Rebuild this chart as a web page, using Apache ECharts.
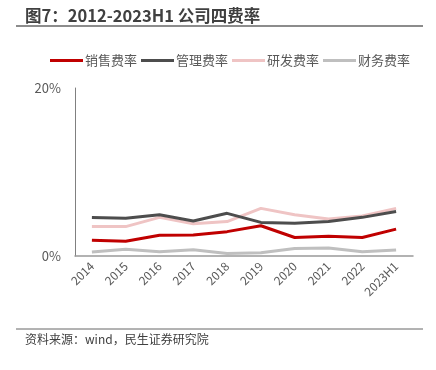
<!DOCTYPE html>
<html><head><meta charset="utf-8">
<script src="https://cdn.jsdelivr.net/npm/echarts@6/dist/echarts.min.js"></script>
<style>html,body{margin:0;padding:0;background:#fff}#c{width:436px;height:370px}</style>
</head><body><div id="c"></div>
<script>
const categories = ['2014','2015','2016','2017','2018','2019','2020','2021','2022','2023H1'];
const salesRate = [1.87, 1.75, 2.46, 2.5, 2.9, 3.6, 2.2, 2.35, 2.2, 3.2];
const mgmtRate = [4.57, 4.5, 4.9, 4.17, 5.08, 4.0, 3.9, 4.1, 4.6, 5.3];
const rdRate = [3.5, 3.5, 4.6, 3.85, 4.1, 5.67, 4.9, 4.4, 4.76, 5.67];
const finRate = [0.48, 0.8, 0.5, 0.75, 0.3, 0.4, 0.9, 0.95, 0.5, 0.7];
const seriesNames = ['销售费率','管理费率','研发费率','财务费率'];
const yTicks = [0, 20];

const colors = ['#C00000','#4D4D4D','#EFC4C4','#BFBFBF'];
const font = '"Noto Sans CJK SC", "Noto Sans", sans-serif';
const chart = echarts.init(document.getElementById('c'));
const dataSets = [salesRate, mgmtRate, rdRate, finRate];
chart.setOption({
  animation: false,
  title: {
    text: '图7：2012-2023H1 公司四费率',
    left: 20, top: 2,
    textStyle: {fontFamily: font, fontSize: 16.5, fontWeight: 'bold', color: '#404040'}
  },
  graphic: [
    {type: 'line', shape: {x1: 16, y1: 26, x2: 423, y2: 26}, style: {stroke: '#666', lineWidth: 1.5}},
    {type: 'line', shape: {x1: 16, y1: 329, x2: 423, y2: 329}, style: {stroke: '#666', lineWidth: 1}},
    {type: 'text', left: 25, top: 333, style: {text: '资料来源：wind，民生证券研究院', font: '12px ' + font, fill: '#404040'}}
  ],
  legend: {
    data: seriesNames,
    left: 45, top: 49,
    itemWidth: 33, itemHeight: 3, itemGap: 4,
    icon: 'rect',
    textStyle: {fontFamily: font, fontSize: 13, color: '#595959', padding: [0,0,0,-3]}
  },
  grid: {left: 75, right: 23, top: 88, bottom: 114},
  xAxis: {
    type: 'category', data: categories, boundaryGap: true,
    axisLine: {lineStyle: {color: '#999', width: 1.5}},
    axisTick: {show: false},
    axisLabel: {rotate: 45, fontFamily: font, fontSize: 12, color: '#595959', margin: 8, interval: 0}
  },
  yAxis: {
    type: 'value', min: yTicks[0], max: yTicks[1], interval: 20,
    splitLine: {show: false},
    axisLine: {show: true, lineStyle: {color: '#808080', width: 1}},
    axisTick: {show: false},
    axisLabel: {formatter: '{value}%', fontFamily: font, fontSize: 13, color: '#595959', margin: 14}
  },
  series: seriesNames.map((n, i) => ({
    name: n, type: 'line', data: dataSets[i], symbol: 'none',
    lineStyle: {color: colors[i], width: 3}, itemStyle: {color: colors[i]}, z: 10 - i
  }))
});
</script></body></html>
